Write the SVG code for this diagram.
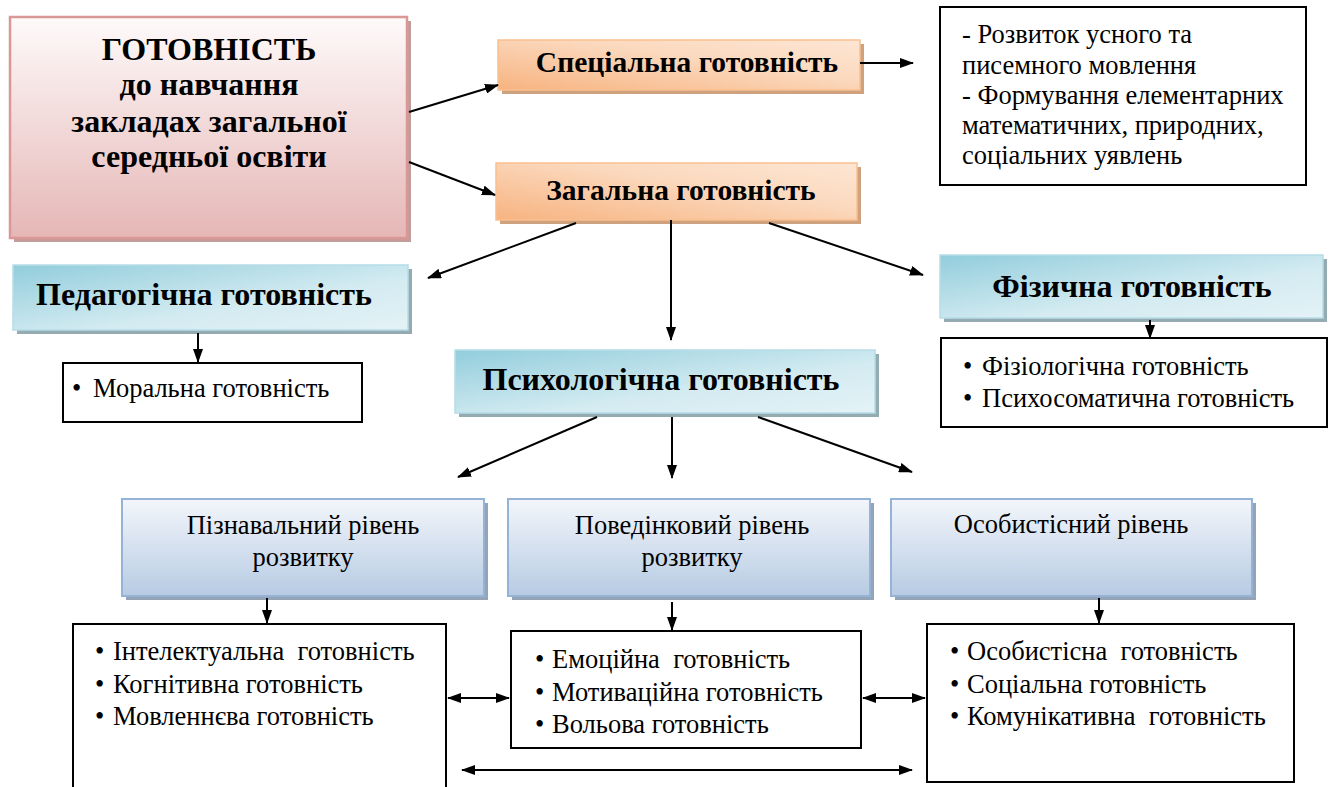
<svg xmlns="http://www.w3.org/2000/svg" width="1335" height="787" viewBox="0 0 1335 787" font-family="'Liberation Serif', 'DejaVu Serif', serif">
<defs>
<linearGradient id="gPink" x1="0" y1="0" x2="0" y2="1"><stop offset="0" stop-color="#fefafa"/><stop offset="1" stop-color="#e5b7b6"/></linearGradient>
<linearGradient id="gOrange" x1="0" y1="1" x2="1" y2="0"><stop offset="0" stop-color="#f7b380"/><stop offset="0.6" stop-color="#fbd9be"/><stop offset="1" stop-color="#fde6d4"/></linearGradient>
<linearGradient id="gCyan" x1="0" y1="0" x2="1" y2="1"><stop offset="0" stop-color="#92cddc"/><stop offset="0.6" stop-color="#d3ebf1"/><stop offset="1" stop-color="#e4f2f6"/></linearGradient>
<linearGradient id="gBlue" x1="0" y1="0" x2="0" y2="1"><stop offset="0" stop-color="#f3f6fb"/><stop offset="1" stop-color="#b7cbe3"/></linearGradient>
<marker id="ah" viewBox="0 0 14 10" refX="13" refY="5" markerWidth="14" markerHeight="10" markerUnits="userSpaceOnUse" orient="auto-start-reverse"><path d="M0,0 L14,5 L0,10 Z" fill="#000"/></marker>
</defs>
<style>
text{font-family:'Liberation Serif','DejaVu Serif',serif;fill:#000;white-space:pre}
.b{font-weight:bold}
.c{text-anchor:middle}
.t{font-size:26.5px}
.h1{font-size:32px;font-weight:bold;text-anchor:middle}
.h2{font-size:29.5px;font-weight:bold;text-anchor:middle}
.sh{stroke:none}
.plain{fill:#fff;stroke:#000;stroke-width:2}
.ln{stroke:#000;stroke-width:2;fill:none;marker-end:url(#ah)}
.dbl{stroke:#000;stroke-width:2;fill:none;marker-end:url(#ah);marker-start:url(#ah)}
</style>
<rect width="1335" height="787" fill="#fff"/>

<g id="main">
<rect x="14" y="21" width="397" height="221" fill="#c29c9b" class="sh"/>
<rect x="10" y="17" width="397" height="221" fill="url(#gPink)" stroke="#d99795" stroke-width="2.5"/>
<text x="209" y="60" class="h1">ГОТОВНІСТЬ</text>
<text x="209" y="95" class="h1">до навчання</text>
<text x="209" y="132" class="h1">закладах загальної</text>
<text x="209" y="167" class="h1">середньої освіти</text>
</g>

<g id="special">
<rect x="502" y="44" width="362" height="50" fill="#cfa27f" class="sh"/>
<rect x="498" y="40" width="362" height="50" fill="url(#gOrange)" stroke="#fac08f" stroke-width="1.5"/>
<text x="687" y="72" class="h2">Спеціальна готовність</text>
</g>

<g id="special-list">
<rect x="940" y="7" width="366" height="178" class="plain"/>
<text x="962" y="43" class="t">- Розвиток усного та</text>
<text x="962" y="74" class="t">писемного мовлення</text>
<text x="962" y="104" class="t">- Формування елементарних</text>
<text x="962" y="134" class="t">математичних, природних,</text>
<text x="962" y="164" class="t">соціальних уявлень</text>
</g>

<g id="general">
<rect x="500" y="167" width="361" height="57" fill="#cfa27f" class="sh"/>
<rect x="496" y="163" width="361" height="57" fill="url(#gOrange)" stroke="#fac08f" stroke-width="1.5"/>
<text x="681" y="200" class="h2">Загальна готовність</text>
</g>

<g id="pedagog">
<rect x="17" y="269" width="395" height="65" fill="#93abb1" class="sh"/>
<rect x="13" y="265" width="395" height="65" fill="url(#gCyan)" stroke="#b6dde8" stroke-width="1.5"/>
<text x="204" y="305" class="h1">Педагогічна готовність</text>
</g>

<g id="moral">
<rect x="63" y="363" width="299" height="59" class="plain"/>
<text y="397" class="t"><tspan x="72">•</tspan><tspan x="93">Моральна готовність</tspan></text>
</g>

<g id="physical">
<rect x="944" y="259" width="383" height="63" fill="#93abb1" class="sh"/>
<rect x="940" y="255" width="383" height="63" fill="url(#gCyan)" stroke="#b6dde8" stroke-width="1.5"/>
<text x="1132" y="297" class="h1">Фізична готовність</text>
</g>

<g id="physical-list">
<rect x="941" y="338" width="386" height="89" class="plain"/>
<text y="375" class="t"><tspan x="963">•</tspan><tspan x="982">Фізіологічна готовність</tspan></text>
<text y="407" class="t"><tspan x="963">•</tspan><tspan x="982">Психосоматична готовність</tspan></text>
</g>

<g id="psych">
<rect x="459" y="354" width="420" height="63" fill="#93abb1" class="sh"/>
<rect x="455" y="350" width="420" height="63" fill="url(#gCyan)" stroke="#b6dde8" stroke-width="1.5"/>
<text x="661" y="390" class="h1">Психологічна готовність</text>
</g>

<g id="cognitive">
<rect x="126" y="503" width="362" height="97" fill="#95a3b6" class="sh"/>
<rect x="122" y="499" width="362" height="97" fill="url(#gBlue)" stroke="#95b3d7" stroke-width="2"/>
<text x="303" y="534" class="t c">Пізнавальний рівень</text>
<text x="303" y="566" class="t c">розвитку</text>
</g>

<g id="behavior">
<rect x="512" y="503" width="362" height="97" fill="#95a3b6" class="sh"/>
<rect x="508" y="499" width="362" height="97" fill="url(#gBlue)" stroke="#95b3d7" stroke-width="2"/>
<text x="692" y="534" class="t c">Поведінковий рівень</text>
<text x="692" y="566" class="t c">розвитку</text>
</g>

<g id="personal">
<rect x="895" y="503" width="361" height="97" fill="#95a3b6" class="sh"/>
<rect x="891" y="499" width="361" height="97" fill="url(#gBlue)" stroke="#95b3d7" stroke-width="2"/>
<text x="1071" y="533" class="t c">Особистісний рівень</text>
</g>

<g id="cognitive-list">
<path d="M73,787 L73,624 L446,624 L446,787" class="plain"/>
<text y="660" class="t"><tspan x="95">•</tspan><tspan x="113">Інтелектуальна  готовність</tspan></text>
<text y="693" class="t"><tspan x="95">•</tspan><tspan x="113">Когнітивна готовність</tspan></text>
<text y="725" class="t"><tspan x="95">•</tspan><tspan x="113">Мовленнєва готовність</tspan></text>
</g>

<g id="behavior-list">
<rect x="511" y="631" width="350" height="117" class="plain"/>
<text y="668" class="t"><tspan x="535">•</tspan><tspan x="552">Емоційна  готовність</tspan></text>
<text y="701" class="t"><tspan x="535">•</tspan><tspan x="552">Мотиваційна готовність</tspan></text>
<text y="733" class="t"><tspan x="535">•</tspan><tspan x="552">Вольова готовність</tspan></text>
</g>

<g id="personal-list">
<rect x="927" y="624" width="367" height="158" class="plain"/>
<text y="660" class="t"><tspan x="950">•</tspan><tspan x="967">Особистісна  готовність</tspan></text>
<text y="693" class="t"><tspan x="950">•</tspan><tspan x="967">Соціальна готовність</tspan></text>
<text y="725" class="t"><tspan x="950">•</tspan><tspan x="967">Комунікативна  готовність</tspan></text>
</g>

<g id="connectors">
<line x1="409" y1="112" x2="498" y2="85" class="ln"/>
<line x1="409" y1="162" x2="495" y2="195" class="ln"/>
<line x1="860" y1="63" x2="913" y2="63" class="ln"/>
<line x1="576" y1="223" x2="428" y2="278" class="ln"/>
<line x1="671" y1="220" x2="671" y2="340" class="ln"/>
<line x1="769" y1="223" x2="923" y2="275" class="ln"/>
<line x1="198" y1="333" x2="198" y2="362" class="ln"/>
<line x1="1150" y1="320" x2="1150" y2="338" class="ln"/>
<line x1="597" y1="417" x2="458" y2="477" class="ln"/>
<line x1="672" y1="417" x2="672" y2="478" class="ln"/>
<line x1="758" y1="417" x2="912" y2="472" class="ln"/>
<line x1="267" y1="598" x2="267" y2="623" class="ln"/>
<line x1="672" y1="602" x2="672" y2="630" class="ln"/>
<line x1="1099" y1="598" x2="1099" y2="623" class="ln"/>
<line x1="448" y1="698" x2="509" y2="698" class="dbl"/>
<line x1="863" y1="698" x2="925" y2="698" class="dbl"/>
<line x1="462" y1="770" x2="912" y2="770" class="dbl"/>
</g>
</svg>
